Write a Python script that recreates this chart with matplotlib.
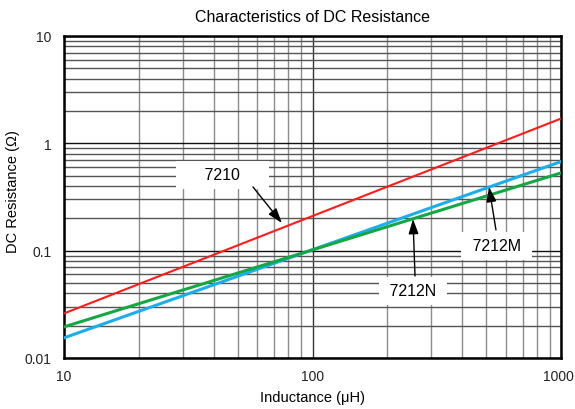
import matplotlib
matplotlib.use("Agg")
import matplotlib.pyplot as plt
import matplotlib.transforms as mtransforms
from matplotlib.ticker import LogLocator, FixedLocator, NullFormatter

plt.rcParams['font.family'] = ['Liberation Sans', 'DejaVu Sans']

inductance = [10, 1000]
r_7210 = [0.026, 1.70]
r_7212M = [0.0154, 0.676]
r_7212N = [0.0195, 0.53]

x_ticks = [10, 100, 1000]
x_ticklabels = ["10", "100", "1000"]
y_ticks = [0.01, 0.1, 1, 10]
y_ticklabels = ["0.01", "0.1", "1", "10"]

labels = ["7210", "7212M", "7212N"]

fig = plt.figure(figsize=(5.75, 4.10), dpi=100)
ax = fig.add_axes([64/575, 51/410, 497/575, 322/410])
ax.set_xscale('log')
ax.set_yscale('log')
ax.set_xlim(10, 1000)
ax.set_ylim(0.01, 10)

ax.xaxis.set_major_locator(FixedLocator(x_ticks))
ax.set_xticklabels(x_ticklabels)
ax.yaxis.set_major_locator(FixedLocator(y_ticks))
ax.set_yticklabels(y_ticklabels)
ax.xaxis.set_minor_locator(LogLocator(base=10, subs=range(2, 10)))
ax.yaxis.set_minor_locator(LogLocator(base=10, subs=range(2, 10)))
ax.xaxis.set_minor_formatter(NullFormatter())
ax.yaxis.set_minor_formatter(NullFormatter())
ax.tick_params(axis='y', which='both', length=0, labelsize=10, colors='#222222', pad=9)
ax.tick_params(axis='x', which='both', length=0, labelsize=10, colors='#222222', pad=8)
shift = mtransforms.ScaledTranslation(-3/100, 0, fig.dpi_scale_trans)
for lbl in ax.get_xticklabels():
    if lbl.get_text() == "1000":
        lbl.set_transform(lbl.get_transform() + shift)

ax.grid(True, axis='x', which='both', color='#8c8c8c', linewidth=1.0)
ax.grid(True, axis='y', which='minor', color='#555555', linewidth=1.0)
ax.grid(True, axis='y', which='major', color='#111111', linewidth=1.0)
ax.grid(True, axis='x', which='major', color='#333333', linewidth=1.0)
ax.set_axisbelow(True)
for s in ax.spines.values():
    s.set_linewidth(1.8)
    s.set_color('black')

ax.plot(inductance, r_7210, color='#ff1a1a', linewidth=1.5, zorder=3)
ax.plot(inductance, r_7212M, color='#1aaeef', linewidth=2.2, zorder=3)
ax.plot(inductance, r_7212N, color='#14a844', linewidth=2.2, zorder=3)

text_pos = [(43.4, 0.508), (550.0, 0.1106), (254.0, 0.0421)]
display_text = ["     7210     ", " 7212M ", " 7212N "]
arrow_base = [(57.6, 0.3925), (547.4, 0.156), (258.5, 0.0581)]
arrow_tip = [(75.3, 0.181), (513.3, 0.3925), (253.8, 0.1974)]
for lab, tp, b, t in zip(display_text, text_pos, arrow_base, arrow_tip):
    ax.text(tp[0], tp[1], lab, ha='center', va='center', fontsize=11.5,
            bbox=dict(boxstyle='square,pad=0.4', facecolor='white', edgecolor='none'),
            zorder=4)
    ax.annotate('', xy=t, xytext=b,
                arrowprops=dict(arrowstyle='-|>,head_length=0.9,head_width=0.3',
                                color='black', linewidth=1.0,
                                shrinkA=0, shrinkB=0), zorder=5)

ax.set_title('Characteristics of DC Resistance', fontsize=11.5, pad=11)
ax.set_xlabel('Inductance (μH)', fontsize=10.5, labelpad=5)
ax.set_ylabel('DC Resistance (Ω)', fontsize=10.5)
ax.yaxis.set_label_coords(-0.0885, 0.52)

fig.savefig('out.png', dpi=100)
